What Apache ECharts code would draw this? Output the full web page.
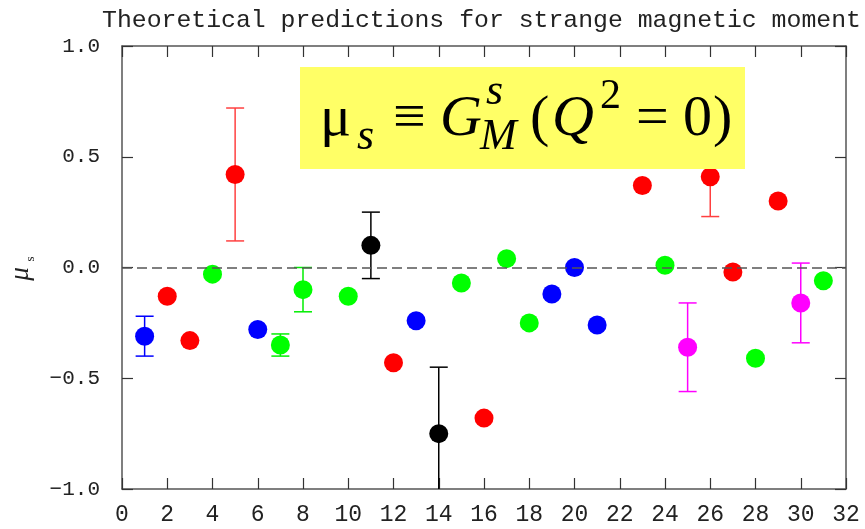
<!DOCTYPE html>
<html>
<head>
<meta charset="utf-8">
<script src="https://cdn.jsdelivr.net/npm/echarts@6/dist/echarts.min.js"></script>
<style>
  html, body { margin: 0; padding: 0; background: #fff; }
  #chart { width: 865px; height: 529px; }
</style>
</head>
<body>
<div id="chart"></div>
<script>
// tick labels
const xTicks = [0, 2, 4, 6, 8, 10, 12, 14, 16, 18, 20, 22, 24, 26, 28, 30, 32];
const yTicks = [-1.0, -0.5, 0.0, 0.5, 1.0];

// points, grouped by colour of the marker
const blueX = [1, 6, 13, 19, 20, 21];
const blueY = [-0.31, -0.28, -0.24, -0.12, 0.0, -0.26];
const redX = [2, 3, 5, 12, 16, 23, 26, 27, 29];
const redY = [-0.13, -0.33, 0.42, -0.43, -0.68, 0.37, 0.41, -0.02, 0.30];
const greenX = [4, 7, 8, 10, 15, 17, 18, 24, 28, 31];
const greenY = [-0.03, -0.35, -0.10, -0.13, -0.07, 0.04, -0.25, 0.01, -0.41, -0.06];
const blackX = [11, 14];
const blackY = [0.10, -0.75];
const magentaX = [25, 30];
const magentaY = [-0.36, -0.16];

// error bars: [x, low, high]
const blueErr = [[1, -0.40, -0.22]];
const redErr = [[5, 0.12, 0.72], [26, 0.23, 0.59]];
const greenErr = [[7, -0.40, -0.30], [8, -0.20, 0.0]];
const blackErr = [[11, -0.05, 0.25], [14, -1.10, -0.45]];
const magentaErr = [[25, -0.56, -0.16], [30, -0.34, 0.02]];

const chart = echarts.init(document.getElementById('chart'));

const zip = (xs, ys) => xs.map((x, i) => [x, ys[i]]);

function errSeries(data, color) {
    return {
        type: 'custom',
        clip: true,
        z: 2,
        silent: true,
        data: data,
        renderItem: function (params, api) {
            const top = api.coord([api.value(0), api.value(2)]);
            const bot = api.coord([api.value(0), api.value(1)]);
            const cap = 9;
            const st = { stroke: color, lineWidth: 1.5 };
            return {
                type: 'group',
                children: [
                    { type: 'line', shape: { x1: top[0], y1: top[1], x2: bot[0], y2: bot[1] }, style: st },
                    { type: 'line', shape: { x1: top[0] - cap, y1: top[1], x2: top[0] + cap, y2: top[1] }, style: st },
                    { type: 'line', shape: { x1: bot[0] - cap, y1: bot[1], x2: bot[0] + cap, y2: bot[1] }, style: st }
                ]
            };
        }
    };
}

function dotSeries(xs, ys, color) {
    return {
        type: 'scatter',
        z: 3,
        symbol: 'circle',
        symbolSize: 19,
        itemStyle: { color: color, opacity: 1 },
        data: zip(xs, ys)
    };
}

const mono = '"Liberation Mono", "DejaVu Sans Mono", monospace';
const serif = '"Liberation Serif", "DejaVu Serif", serif';

// formula pieces in the yellow box
function txt(str, x, base, size, italic) {
    return {
        type: 'text',
        z: 101,
        x: x,
        y: base - 0.32 * size,
        style: {
            text: str,
            font: (italic ? 'italic ' : '') + size + 'px ' + serif,
            fill: '#000',
            align: 'left',
            verticalAlign: 'middle',
            textAlign: 'left',
            textVerticalAlign: 'middle'
        }
    };
}

const axisCommon = {
    type: 'value',
    splitLine: { show: false },
    axisLine: { show: true, onZero: false, lineStyle: { color: '#555', width: 1.5 } },
    axisTick: { show: true, inside: true, length: 11, lineStyle: { color: '#333', width: 1.2 } }
};

const option = {
    backgroundColor: '#fff',
    animation: false,
    grid: { left: 122, right: 19, top: 46, bottom: 40 },
    xAxis: [
        Object.assign({}, axisCommon, {
            min: 0, max: 32, interval: 2,
            axisLabel: {
                margin: 14, color: '#222', fontFamily: mono, fontSize: 23,
                customValues: xTicks
            }
        }),
        Object.assign({}, axisCommon, {
            position: 'top', min: 0, max: 32, interval: 2,
            axisLabel: { show: false }
        })
    ],
    yAxis: [
        Object.assign({}, axisCommon, {
            min: -1, max: 1, interval: 0.5,
            axisLabel: {
                margin: 22, color: '#222', fontFamily: mono, fontSize: 21,
                customValues: yTicks,
                formatter: v => v.toFixed(1).replace('-', '\u2212')
            }
        }),
        Object.assign({}, axisCommon, {
            position: 'right', min: -1, max: 1, interval: 0.5,
            axisLabel: { show: false }
        })
    ],
    graphic: [
        {
            type: 'text', x: 102, y: 8,
            style: {
                text: 'Theoretical predictions for strange magnetic moment',
                font: '24.8px ' + mono, fill: '#222',
                align: 'left', verticalAlign: 'top', textAlign: 'left', textVerticalAlign: 'top'
            }
        },
        {
            type: 'text', x: 21, y: 274, rotation: Math.PI / 2,
            style: {
                text: '\u03bc', font: 'italic 27px ' + serif, fill: '#222',
                align: 'center', verticalAlign: 'middle', textAlign: 'center', textVerticalAlign: 'middle'
            }
        },
        {
            type: 'text', x: 31, y: 259, rotation: Math.PI / 2,
            style: {
                text: 's', font: '13px ' + serif, fill: '#222',
                align: 'center', verticalAlign: 'middle', textAlign: 'center', textVerticalAlign: 'middle'
            }
        },
        { type: 'rect', z: 100, shape: { x: 300, y: 67, width: 445, height: 102 }, style: { fill: '#ffff66' } },
        txt('\u03bc', 320, 138, 58, false),
        txt('s', 357, 152, 44, true),
        txt('\u2261', 393, 138, 58, false),
        txt('G', 440, 138, 58, true),
        txt('s', 486, 107, 44, true),
        txt('M', 480, 152, 44, true),
        txt('(', 530, 138, 58, false),
        txt('Q', 552, 138, 58, true),
        txt('2', 600, 110, 42, false),
        txt('=', 636, 138, 58, false),
        txt('0', 683, 138, 58, false),
        txt(')', 713, 138, 58, false)
    ],
    series: [
        errSeries(blueErr, '#0000ff'),
        errSeries(redErr, '#ff4040'),
        errSeries(greenErr, '#00ee00'),
        errSeries(blackErr, '#000'),
        errSeries(magentaErr, '#ff00ff'),
        Object.assign(dotSeries(greenX, greenY, '#00ff00'), {
            markLine: {
                silent: true,
                symbol: ['none', 'none'],
                label: { show: false },
                lineStyle: { color: '#555', type: [10, 5], width: 1.5 },
                data: [{ yAxis: 0 }]
            }
        }),
        dotSeries(blueX, blueY, '#0000ff'),
        dotSeries(redX, redY, '#ff0000'),
        dotSeries(blackX, blackY, '#000000'),
        dotSeries(magentaX, magentaY, '#ff00ff')
    ]
};

chart.setOption(option);
</script>
</body>
</html>
